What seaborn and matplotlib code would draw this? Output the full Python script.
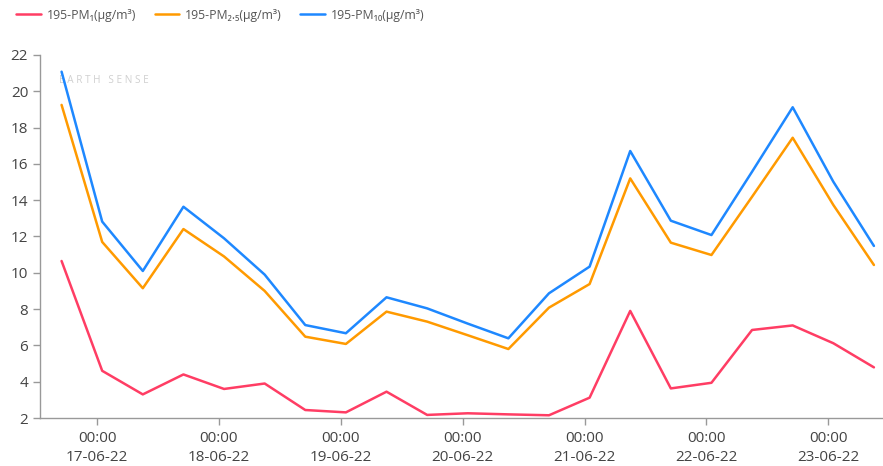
import numpy as np
import pandas as pd
import matplotlib
matplotlib.use("Agg")
import matplotlib.pyplot as plt
import matplotlib.dates as mdates
import seaborn as sns

start = "2022-06-16 17:00"
n_points = 21
pm1 = [10.65, 4.6, 3.3, 4.4, 3.6, 3.9, 2.44, 2.31, 3.45, 2.17, 2.26, 2.2, 2.15, 3.12,
       7.9, 3.63, 3.94, 6.85, 7.1, 6.12, 4.79]
pm25 = [19.25, 11.7, 9.15, 12.41, 10.9, 9.0, 6.48, 6.08, 7.86, 7.31, 6.56, 5.8, 8.08, 9.38,
        15.2, 11.66, 10.98, 14.19, 17.44, 13.74, 10.43]
pm10 = [21.08, 12.82, 10.1, 13.64, 11.9, 9.9, 7.12, 6.67, 8.65, 8.04, 7.2, 6.39, 8.87, 10.34,
        16.71, 12.87, 12.08, 15.57, 19.12, 15.02, 11.48]
series_names = ["195-PM\u2081(\u00b5g/m\u00b3)", "195-PM\u2082.\u2085(\u00b5g/m\u00b3)",
                "195-PM\u2081\u2080(\u00b5g/m\u00b3)"]
colors = ["#FF3D64", "#FF9A00", "#1E88FF"]

times = pd.date_range(start, periods=n_points, freq="8h")
df = pd.concat([
    pd.DataFrame({"time": times, "value": v, "series": name})
    for v, name in zip([pm1, pm25, pm10], series_names)
])

sns.set_theme(style="white")
plt.rcParams["font.family"] = ["Open Sans", "DejaVu Sans"]

fig = plt.figure(figsize=(8.83, 4.66), dpi=100)
ax = fig.add_axes([0.0453, 0.103, 0.954, 0.779])

ax.text(0.022, 0.931, "E A R T H   S E N S E", transform=ax.transAxes, color="#d0d0d0",
        fontsize=7.2, zorder=0, va="center", ha="left",
        family=["Open Sans", "DejaVu Sans"])

sns.lineplot(data=df, x="time", y="value", hue="series", palette=colors,
             hue_order=series_names, linewidth=1.8, ax=ax, legend=True)

ax.set_ylim(2, 22)
ax.set_yticks(np.arange(2, 23, 2))
ax.set_xlim(pd.Timestamp("2022-06-16 12:45"), pd.Timestamp("2022-06-23 10:40"))
ax.xaxis.set_major_locator(mdates.DayLocator())
ax.xaxis.set_major_formatter(mdates.DateFormatter("%H:%M\n%d-%m-%y"))
ax.set_xlabel("")
ax.set_ylabel("")

for s in ["top", "right"]:
    ax.spines[s].set_visible(False)
for s in ["left", "bottom"]:
    ax.spines[s].set_color("#999999")
    ax.spines[s].set_linewidth(1.0)
ax.tick_params(axis="both", which="major", length=5, width=1, color="#999999",
               labelcolor="#444444", labelsize=11, bottom=True, left=True)
ax.tick_params(axis="x", pad=4, labelsize=11)
for lbl in ax.get_xticklabels():
    lbl.set_linespacing(1.45)

handles, labels = ax.get_legend_handles_labels()
ax.get_legend().remove()
fig.legend(handles, labels, loc="upper left", bbox_to_anchor=(0.006, 1.005), ncol=3,
           frameon=False, fontsize=8.8, handlelength=2.0, columnspacing=1.5,
           handletextpad=0.5, labelcolor="#555555")

fig.savefig("out.png", dpi=100)
